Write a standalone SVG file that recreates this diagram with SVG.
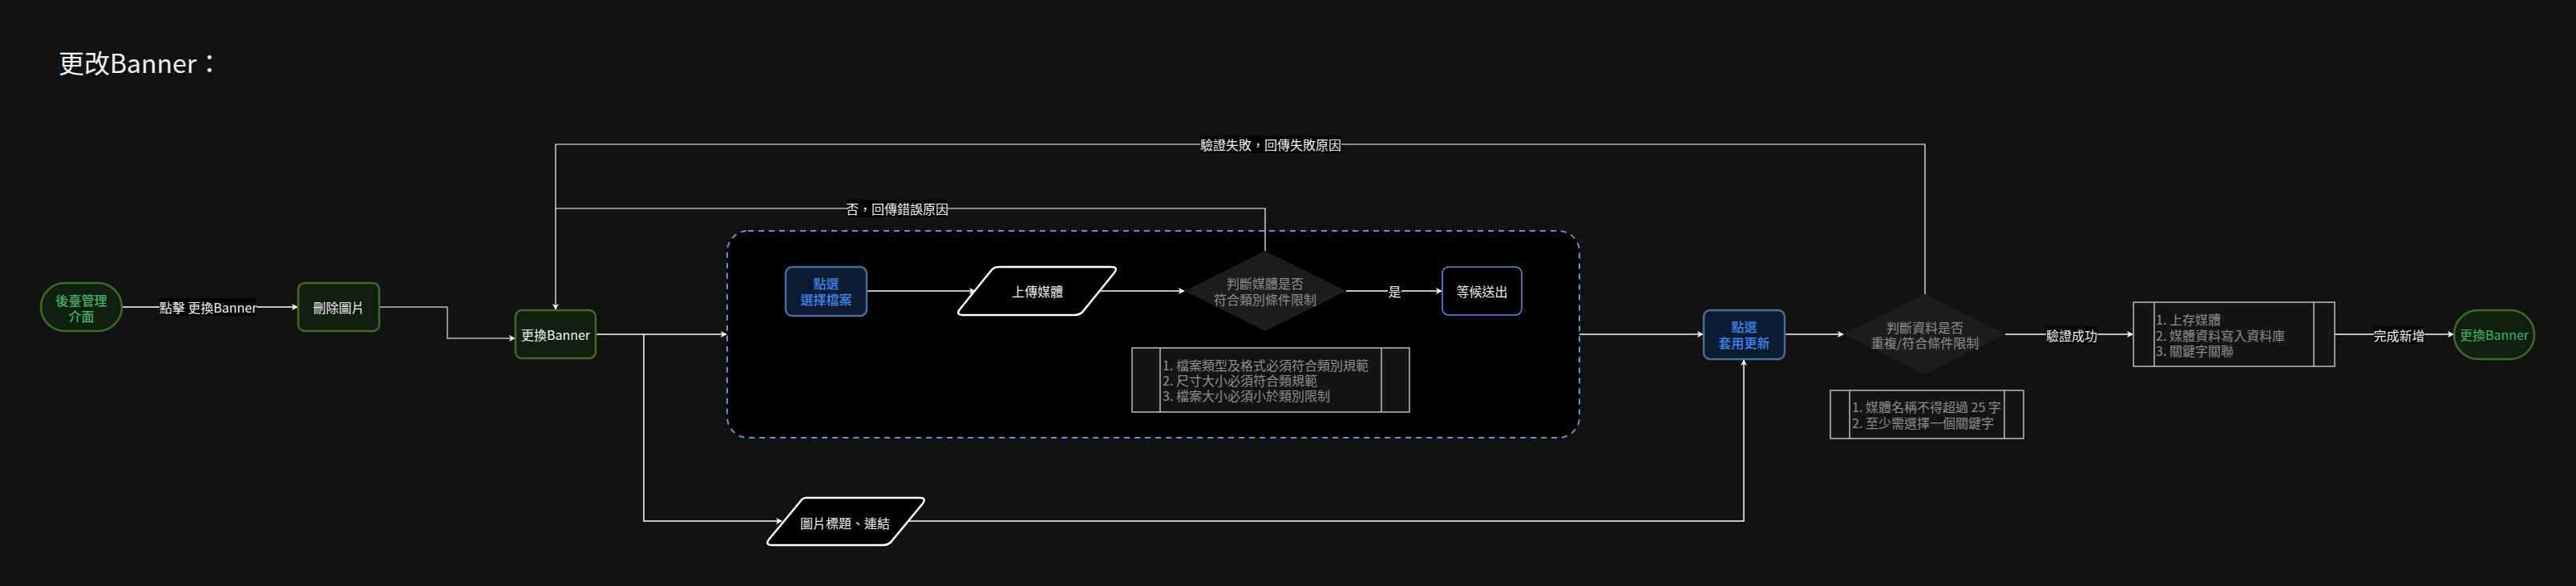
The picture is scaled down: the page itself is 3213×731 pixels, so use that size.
<svg xmlns="http://www.w3.org/2000/svg" width="3213" height="731" viewBox="0 0 3213 731">
<defs>
<marker id="arr" viewBox="0 0 10 10" refX="9" refY="5" markerWidth="8" markerHeight="8" markerUnits="userSpaceOnUse" orient="auto">
<path d="M0,0 L10,5 L0,10 L3,5 z" fill="#ffffff"/>
</marker>
<style>
text{font-family:"Noto Sans CJK TC","Noto Sans CJK SC",sans-serif;font-size:16px;dominant-baseline:central}
.t{fill:#f2f2f2;text-anchor:middle}
.g{fill:#45b26b;text-anchor:middle}
.b{fill:#3f87f2;text-anchor:middle}
.d{fill:#8f8f8f;text-anchor:middle}
.n{fill:#8f8f8f;text-anchor:start}
.gn{fill:#0f200f;stroke:#3b6e20;stroke-width:2.5}
.bn{fill:#0b1b31;stroke:#4b6b9b;stroke-width:2.5}
.e{fill:none;stroke:#ffffff;stroke-width:1.5}
.lb{fill:#000000}
.note{fill:#141414;stroke:#bdbdbd;stroke-width:1.5}
.nl{stroke:#bdbdbd;stroke-width:1.5}
.m{font-weight:500}
</style>
</defs>
<rect width="3213" height="731" fill="#121212"/>
<text x="73" y="77" style="font-size:32px;fill:#f2f2f2">更改Banner：</text>

<g id="container">
<rect x="907" y="288" width="1063" height="258" rx="26" fill="#000000" stroke="#6a8ee6" stroke-width="2" stroke-dasharray="7 6"/>
</g>

<g id="connectors">
<path class="e" d="M152,383 H371" marker-end="url(#arr)"/>
<rect class="lb" x="199" y="372" width="121" height="22"/>
<text class="t" x="259.5" y="383">點擊 更換Banner</text>
<path class="e" d="M473,383 H558 V422 H642" marker-end="url(#arr)" style="stroke:#bdbdbd"/>
<path class="e" d="M743,417 H906" marker-end="url(#arr)"/>
<path class="e" d="M803,417 V650 H975" marker-end="url(#arr)"/>
<path class="e" d="M1133,650 H2175 V449" marker-end="url(#arr)"/>
<path class="e" d="M1081,363 H1216" marker-end="url(#arr)"/>
<path class="e" d="M1370,363 H1477" marker-end="url(#arr)"/>
<path class="e" d="M1679,363 H1798" marker-end="url(#arr)"/>
<rect class="lb" x="1731" y="352" width="17" height="22"/>
<text class="t" x="1739.5" y="363">是</text>
<path class="e" d="M1578,313 V260 H693" style="stroke-width:1.2"/>
<rect class="lb" x="1056" y="249" width="126" height="22"/>
<text class="t" x="1119" y="260">否，回傳錯誤原因</text>
<path class="e" d="M2401,367 V180 H693 V386" marker-end="url(#arr)" style="stroke-width:1.2"/>
<rect class="lb" x="1497" y="169" width="176" height="22"/>
<text class="t" x="1585" y="180">驗證失敗，回傳失敗原因</text>
<path class="e" d="M1970,417 H2124" marker-end="url(#arr)"/>
<path class="e" d="M2226,417 H2299" marker-end="url(#arr)"/>
<path class="e" d="M2501,417 H2660" marker-end="url(#arr)"/>
<rect class="lb" x="2552" y="407" width="64" height="22"/>
<text class="t" x="2584" y="418">驗證成功</text>
<path class="e" d="M2912,417 H3060" marker-end="url(#arr)"/>
<rect class="lb" x="2961" y="407" width="63" height="22"/>
<text class="t" x="2992.5" y="418">完成新增</text>
</g>

<g id="start">
<rect class="gn" x="51" y="353" width="101" height="60" rx="30"/>
<text class="g m" x="101.5" y="374">後臺管理</text>
<text class="g m" x="101.5" y="394">介面</text>
</g>
<g id="delete">
<rect class="gn" x="372" y="353" width="101" height="60" rx="8"/>
<text class="t" x="422.5" y="383">刪除圖片</text>
</g>
<g id="change">
<rect class="gn" x="643" y="387" width="100" height="60" rx="8"/>
<text class="t" x="693" y="417">更換Banner</text>
</g>
<g id="select-file">
<rect class="bn" x="980" y="333" width="101" height="61" rx="8"/>
<text class="b m" x="1030.5" y="353">點選</text>
<text class="b m" x="1030.5" y="373">選擇檔案</text>
</g>
<g id="upload">
<path d="M1245,333 H1386 Q1395,333 1390,340 L1352,387 Q1348,393 1340,393 H1201 Q1192,393 1197,386 L1235,339 Q1239,333 1245,333 Z" fill="#000" stroke="#ffffff" stroke-width="2.5"/>
<text class="t" x="1294" y="363">上傳媒體</text>
</g>
<g id="check-media">
<polygon points="1578,313 1679,363 1578,413 1478,363" fill="#1d1d1d"/>
<text class="d" x="1578" y="353">判斷媒體是否</text>
<text class="d" x="1578" y="373">符合類別條件限制</text>
</g>
<g id="wait">
<rect x="1799" y="333" width="99" height="60" rx="8" fill="#000" stroke="#6a8ee6" stroke-width="1.5"/>
<text class="t" x="1848.5" y="363">等候送出</text>
</g>
<g id="note1">
<rect class="note" x="1412" y="434" width="346" height="80"/>
<line class="nl" x1="1447" y1="434" x2="1447" y2="514"/>
<line class="nl" x1="1723" y1="434" x2="1723" y2="514"/>
<text class="n" x="1450" y="455">1. 檔案類型及格式必須符合類別規範</text>
<text class="n" x="1450" y="474">2. 尺寸大小必須符合類規範</text>
<text class="n" x="1450" y="493">3. 檔案大小必須小於類別限制</text>
</g>
<g id="caption">
<path d="M1005,621 H1147 Q1156,621 1151,628 L1113,674 Q1109,680 1101,680 H963 Q954,680 959,673 L997,627 Q1001,621 1005,621 Z" fill="#000" stroke="#ffffff" stroke-width="2.5"/>
<text class="t" x="1054" y="652">圖片標題、連結</text>
</g>
<g id="apply">
<rect class="bn" x="2125" y="387" width="101" height="61" rx="8"/>
<text class="b m" x="2175.5" y="407">點選</text>
<text class="b m" x="2175.5" y="427">套用更新</text>
</g>
<g id="check-data">
<polygon points="2401,367 2501,417 2401,467 2300,417" fill="#1d1d1d"/>
<text class="d" x="2401" y="408">判斷資料是否</text>
<text class="d" x="2401" y="427">重複/符合條件限制</text>
</g>
<g id="note2">
<rect class="note" x="2283" y="487" width="241" height="60"/>
<line class="nl" x1="2307" y1="487" x2="2307" y2="547"/>
<line class="nl" x1="2500" y1="487" x2="2500" y2="547"/>
<text class="n" x="2310" y="507">1. 媒體名稱不得超過 25 字</text>
<text class="n" x="2310" y="527">2. 至少需選擇一個關鍵字</text>
</g>
<g id="save">
<rect class="note" x="2661" y="377" width="251" height="80"/>
<line class="nl" x1="2687" y1="377" x2="2687" y2="457"/>
<line class="nl" x1="2886" y1="377" x2="2886" y2="457"/>
<text class="n" x="2689" y="398">1. 上存媒體</text>
<text class="n" x="2689" y="418">2. 媒體資料寫入資料庫</text>
<text class="n" x="2689" y="437">3. 關鍵字關聯</text>
</g>
<g id="end">
<rect class="gn" x="3061" y="387" width="100" height="61" rx="30"/>
<text class="g" x="3111" y="417">更換Banner</text>
</g>
</svg>
